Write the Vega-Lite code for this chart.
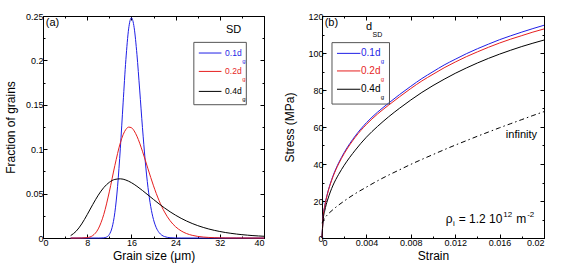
{
"$schema": "https://vega.github.io/schema/vega-lite/v6.json",
"padding": {"left": 4, "top": 11, "right": 4, "bottom": 4},
"spacing": 16,
"config": {
  "font": "Liberation Sans",
  "view": {"stroke": "black", "strokeWidth": 1},
  "axis": {"domainColor": "black", "tickColor": "black", "labelColor": "black", "titleColor": "black", "labelFontSize": 9, "titleFontSize": 12, "titleFontWeight": "normal", "grid": false, "labelPadding": 4, "titlePadding": 3.5, "labelFont": "Liberation Sans", "titleFont": "Liberation Sans"}
},
"datasets": {
  "dist": [
    {"sd":"0.1","size":5,"fraction":0},{"sd":"0.1","size":10,"fraction":0},{"sd":"0.1","size":10.5,"fraction":0.00002},{"sd":"0.1","size":11,"fraction":0.00022},{"sd":"0.1","size":11.5,"fraction":0.00105},{"sd":"0.1","size":12,"fraction":0.00391},{"sd":"0.1","size":12.5,"fraction":0.01167},{"sd":"0.1","size":13,"fraction":0.02849},{"sd":"0.1","size":13.5,"fraction":0.05815},{"sd":"0.1","size":14,"fraction":0.10113},{"sd":"0.1","size":14.5,"fraction":0.15215},{"sd":"0.1","size":15,"fraction":0.20084},{"sd":"0.1","size":15.5,"fraction":0.2355},{"sd":"0.1","size":16,"fraction":0.248},{"sd":"0.1","size":16.5,"fraction":0.23683},{"sd":"0.1","size":17,"fraction":0.20689},{"sd":"0.1","size":17.5,"fraction":0.1666},{"sd":"0.1","size":18,"fraction":0.12454},{"sd":"0.1","size":18.5,"fraction":0.08696},{"sd":"0.1","size":19,"fraction":0.05705},{"sd":"0.1","size":19.5,"fraction":0.03533},{"sd":"0.1","size":20,"fraction":0.02076},{"sd":"0.1","size":20.5,"fraction":0.01162},{"sd":"0.1","size":21,"fraction":0.00622},{"sd":"0.1","size":21.5,"fraction":0.00319},{"sd":"0.1","size":22,"fraction":0.00158},{"sd":"0.1","size":22.5,"fraction":0.00075},{"sd":"0.1","size":23,"fraction":0.00035},{"sd":"0.1","size":24,"fraction":0.00007},{"sd":"0.1","size":25,"fraction":0},{"sd":"0.1","size":40,"fraction":0},
    {"sd":"0.2","size":5,"fraction":0},{"sd":"0.2","size":6,"fraction":0},{"sd":"0.2","size":7,"fraction":0.00004},{"sd":"0.2","size":8,"fraction":0.00045},{"sd":"0.2","size":9,"fraction":0.00274},{"sd":"0.2","size":10,"fraction":0.01024},{"sd":"0.2","size":11,"fraction":0.02654},{"sd":"0.2","size":12,"fraction":0.05193},{"sd":"0.2","size":13,"fraction":0.08147},{"sd":"0.2","size":14,"fraction":0.10717},{"sd":"0.2","size":14.5,"fraction":0.11632},{"sd":"0.2","size":15,"fraction":0.12227},{"sd":"0.2","size":15.5,"fraction":0.12486},{"sd":"0.2","size":16,"fraction":0.1242},{"sd":"0.2","size":16.5,"fraction":0.12062},{"sd":"0.2","size":17,"fraction":0.11463},{"sd":"0.2","size":18,"fraction":0.09771},{"sd":"0.2","size":19,"fraction":0.07792},{"sd":"0.2","size":20,"fraction":0.05876},{"sd":"0.2","size":21,"fraction":0.04227},{"sd":"0.2","size":22,"fraction":0.02921},{"sd":"0.2","size":23,"fraction":0.0195},{"sd":"0.2","size":24,"fraction":0.01266},{"sd":"0.2","size":25,"fraction":0.00801},{"sd":"0.2","size":26,"fraction":0.00496},{"sd":"0.2","size":27,"fraction":0.00302},{"sd":"0.2","size":28,"fraction":0.00181},{"sd":"0.2","size":29,"fraction":0.00107},{"sd":"0.2","size":30,"fraction":0.00062},{"sd":"0.2","size":31,"fraction":0.00036},{"sd":"0.2","size":32,"fraction":0.00021},{"sd":"0.2","size":33,"fraction":0.00012},{"sd":"0.2","size":34,"fraction":0.00007},{"sd":"0.2","size":35,"fraction":0.00004},{"sd":"0.2","size":36,"fraction":0.00002},{"sd":"0.2","size":38,"fraction":0},{"sd":"0.2","size":40,"fraction":0},
    {"sd":"0.4","size":5,"fraction":0.00266},{"sd":"0.4","size":6,"fraction":0.00762},{"sd":"0.4","size":7,"fraction":0.01579},{"sd":"0.4","size":8,"fraction":0.02632},{"sd":"0.4","size":9,"fraction":0.03764},{"sd":"0.4","size":10,"fraction":0.0482},{"sd":"0.4","size":11,"fraction":0.05677},{"sd":"0.4","size":12,"fraction":0.06273},{"sd":"0.4","size":13,"fraction":0.06595},{"sd":"0.4","size":14,"fraction":0.06665},{"sd":"0.4","size":15,"fraction":0.06527},{"sd":"0.4","size":16,"fraction":0.06231},{"sd":"0.4","size":17,"fraction":0.05824},{"sd":"0.4","size":18,"fraction":0.05352},{"sd":"0.4","size":19,"fraction":0.04848},{"sd":"0.4","size":20,"fraction":0.04341},{"sd":"0.4","size":21,"fraction":0.03848},{"sd":"0.4","size":22,"fraction":0.03383},{"sd":"0.4","size":23,"fraction":0.02954},{"sd":"0.4","size":24,"fraction":0.02564},{"sd":"0.4","size":25,"fraction":0.02215},{"sd":"0.4","size":26,"fraction":0.01906},{"sd":"0.4","size":27,"fraction":0.01634},{"sd":"0.4","size":28,"fraction":0.01397},{"sd":"0.4","size":29,"fraction":0.01192},{"sd":"0.4","size":30,"fraction":0.01015},{"sd":"0.4","size":31,"fraction":0.00863},{"sd":"0.4","size":32,"fraction":0.00733},{"sd":"0.4","size":33,"fraction":0.00621},{"sd":"0.4","size":34,"fraction":0.00527},{"sd":"0.4","size":35,"fraction":0.00446},{"sd":"0.4","size":36,"fraction":0.00378},{"sd":"0.4","size":37,"fraction":0.0032},{"sd":"0.4","size":38,"fraction":0.00271},{"sd":"0.4","size":39,"fraction":0.00229},{"sd":"0.4","size":40,"fraction":0.00194}
  ],
  "stress": [
    {"sd":"0.1","strain":0,"stress":0},{"sd":"0.1","strain":0.0001,"stress":11.2},{"sd":"0.1","strain":0.00025,"stress":17.4},{"sd":"0.1","strain":0.0005,"stress":24.3},{"sd":"0.1","strain":0.00075,"stress":29.4},{"sd":"0.1","strain":0.001,"stress":33.7},{"sd":"0.1","strain":0.0015,"stress":40.6},{"sd":"0.1","strain":0.002,"stress":46.2},{"sd":"0.1","strain":0.003,"stress":55.2},{"sd":"0.1","strain":0.004,"stress":62.3},{"sd":"0.1","strain":0.005,"stress":68.0},{"sd":"0.1","strain":0.006,"stress":72.9},{"sd":"0.1","strain":0.007,"stress":77.6},{"sd":"0.1","strain":0.008,"stress":82.0},{"sd":"0.1","strain":0.009,"stress":86.2},{"sd":"0.1","strain":0.01,"stress":89.9},{"sd":"0.1","strain":0.011,"stress":93.5},{"sd":"0.1","strain":0.012,"stress":96.6},{"sd":"0.1","strain":0.013,"stress":99.6},{"sd":"0.1","strain":0.014,"stress":102.3},{"sd":"0.1","strain":0.015,"stress":104.8},{"sd":"0.1","strain":0.016,"stress":107.2},{"sd":"0.1","strain":0.017,"stress":109.3},{"sd":"0.1","strain":0.018,"stress":111.3},{"sd":"0.1","strain":0.019,"stress":113.2},{"sd":"0.1","strain":0.02,"stress":115.0},
    {"sd":"0.2","strain":0,"stress":0},{"sd":"0.2","strain":0.0001,"stress":11.0},{"sd":"0.2","strain":0.00025,"stress":17.2},{"sd":"0.2","strain":0.0005,"stress":24.0},{"sd":"0.2","strain":0.00075,"stress":29.1},{"sd":"0.2","strain":0.001,"stress":33.3},{"sd":"0.2","strain":0.0015,"stress":40.1},{"sd":"0.2","strain":0.002,"stress":45.6},{"sd":"0.2","strain":0.003,"stress":54.5},{"sd":"0.2","strain":0.004,"stress":61.4},{"sd":"0.2","strain":0.005,"stress":67.0},{"sd":"0.2","strain":0.006,"stress":71.8},{"sd":"0.2","strain":0.007,"stress":76.4},{"sd":"0.2","strain":0.008,"stress":80.8},{"sd":"0.2","strain":0.009,"stress":84.9},{"sd":"0.2","strain":0.01,"stress":88.5},{"sd":"0.2","strain":0.011,"stress":92.0},{"sd":"0.2","strain":0.012,"stress":95.1},{"sd":"0.2","strain":0.013,"stress":98.0},{"sd":"0.2","strain":0.014,"stress":100.6},{"sd":"0.2","strain":0.015,"stress":103.1},{"sd":"0.2","strain":0.016,"stress":105.4},{"sd":"0.2","strain":0.017,"stress":107.5},{"sd":"0.2","strain":0.018,"stress":109.4},{"sd":"0.2","strain":0.019,"stress":111.3},{"sd":"0.2","strain":0.02,"stress":113.0},
    {"sd":"0.4","strain":0,"stress":0},{"sd":"0.4","strain":0.0001,"stress":9.5},{"sd":"0.4","strain":0.00025,"stress":14.8},{"sd":"0.4","strain":0.0005,"stress":20.5},{"sd":"0.4","strain":0.00075,"stress":24.9},{"sd":"0.4","strain":0.001,"stress":28.6},{"sd":"0.4","strain":0.0015,"stress":34.4},{"sd":"0.4","strain":0.002,"stress":39.3},{"sd":"0.4","strain":0.003,"stress":47.5},{"sd":"0.4","strain":0.004,"stress":54.5},{"sd":"0.4","strain":0.005,"stress":60.3},{"sd":"0.4","strain":0.006,"stress":65.5},{"sd":"0.4","strain":0.007,"stress":70.2},{"sd":"0.4","strain":0.008,"stress":74.6},{"sd":"0.4","strain":0.009,"stress":78.7},{"sd":"0.4","strain":0.01,"stress":82.4},{"sd":"0.4","strain":0.011,"stress":85.8},{"sd":"0.4","strain":0.012,"stress":89.0},{"sd":"0.4","strain":0.013,"stress":91.9},{"sd":"0.4","strain":0.014,"stress":94.6},{"sd":"0.4","strain":0.015,"stress":97.1},{"sd":"0.4","strain":0.016,"stress":99.4},{"sd":"0.4","strain":0.017,"stress":101.5},{"sd":"0.4","strain":0.018,"stress":103.5},{"sd":"0.4","strain":0.019,"stress":105.3},{"sd":"0.4","strain":0.02,"stress":107.0}
  ],
  "inf": [
    {"strain":0,"stress":8},{"strain":0.00025,"stress":10.8},{"strain":0.0005,"stress":12.6},{"strain":0.001,"stress":15.4},{"strain":0.002,"stress":20.0},{"strain":0.003,"stress":24.0},{"strain":0.004,"stress":27.5},{"strain":0.005,"stress":30.9},{"strain":0.006,"stress":34.0},{"strain":0.007,"stress":36.9},{"strain":0.008,"stress":39.8},{"strain":0.009,"stress":42.5},{"strain":0.01,"stress":45.1},{"strain":0.011,"stress":47.7},{"strain":0.012,"stress":50.2},{"strain":0.013,"stress":52.6},{"strain":0.014,"stress":55.0},{"strain":0.015,"stress":57.3},{"strain":0.016,"stress":59.6},{"strain":0.017,"stress":61.8},{"strain":0.018,"stress":64.0},{"strain":0.019,"stress":66.2},{"strain":0.02,"stress":68.3}
  ],
  "boxA": [{"x1":27.3,"x2":36.8,"y1":0.1501,"y2":0.2203}],
  "legA": [
    {"sd":"0.1","x1":28.2,"x2":32.3,"y":0.2083,"label":"0.1d","lx":35.95,"sx":36.05,"sy":0.1996},
    {"sd":"0.2","x1":28.2,"x2":32.3,"y":0.1876,"label":"0.2d","lx":35.95,"sx":36.05,"sy":0.1789},
    {"sd":"0.4","x1":28.2,"x2":32.3,"y":0.1651,"label":"0.4d","lx":35.95,"sx":36.05,"sy":0.1564}
  ],
  "annA": [{"x":0.5,"y":0.242,"t":"(a)"},{"x":33.1,"y":0.2346,"t":"SD"}],
  "boxB": [{"x1":0.0009,"x2":0.00608,"y1":72.4,"y2":105.6}],
  "legB": [
    {"sd":"0.1","x1":0.00135,"x2":0.00346,"y":99.8,"label":"0.1d","lx":0.00527,"sx":0.0053,"sy":95.6},
    {"sd":"0.2","x1":0.00135,"x2":0.00346,"y":90.3,"label":"0.2d","lx":0.00527,"sx":0.0053,"sy":86.1},
    {"sd":"0.4","x1":0.00135,"x2":0.00346,"y":80.4,"label":"0.4d","lx":0.00527,"sx":0.0053,"sy":76.2}
  ],
  "annBl": [{"x":0.00024,"y":116,"t":"(b)"}],
  "annBr": [{"x":0.01937,"y":55.7,"t":"infinity"},{"x":0.00451,"y":114.2,"t":"d"}],
  "annBs": [{"x":0.00455,"y":109.7,"t":"SD"}],
  "rhoMain": [{"x":0.011144,"y":10.1,"t":"ρ"},{"x":0.012315,"y":10.1,"t":"= 1.2 10"},{"x":0.017495,"y":10.1,"t":"m"}],
  "rhoSmall": [{"x":0.011793,"y":7.6,"t":"i"},{"x":0.016324,"y":12.5,"t":"12"},{"x":0.018486,"y":12.5,"t":"-2"}]
},
"hconcat": [
  {
    "width": 221, "height": 222,
    "resolve": {"axis": {"x": "independent", "y": "independent"}},
    "layer": [
      {
        "data": {"name": "dist"},
        "mark": {"type": "line", "strokeWidth": 1, "interpolate": "monotone"},
        "encoding": {
          "x": {"field": "size", "type": "quantitative", "scale": {"domain": [0, 40], "nice": false},
                "axis": {"orient": "bottom", "title": "Grain size (μm)", "values": [0,4,8,12,16,20,24,28,32,36,40],
                         "labelExpr": "datum.value % 8 === 0 ? datum.label : ''",
                         "tickSize": {"condition": {"test": "datum.value % 8 === 0", "value": -4}, "value": -2}}},
          "y": {"field": "fraction", "type": "quantitative", "scale": {"domain": [0, 0.25], "nice": false},
                "axis": {"orient": "left", "title": "Fraction of grains", "titlePadding": 7.5, "values": [0,0.025,0.05,0.075,0.1,0.125,0.15,0.175,0.2,0.225,0.25],
                         "labelExpr": "abs(datum.value*20 - round(datum.value*20)) < 1e-6 ? format(datum.value, '~g') : ''",
                         "tickSize": {"condition": {"test": "abs(datum.value*20 - round(datum.value*20)) < 1e-6", "value": -4}, "value": -2}}},
          "color": {"field": "sd", "type": "nominal", "scale": {"domain": ["0.1","0.2","0.4"], "range": ["#1f1fe6","#e61f1f","#000000"]}, "legend": null}
        }
      },
      {
        "data": {"name": "boxA"},
        "mark": {"type": "rect", "filled": false, "stroke": "#555555", "strokeWidth": 1},
        "encoding": {
          "x": {"field": "x1", "type": "quantitative",
                "axis": {"orient": "top", "title": null, "labels": false, "values": [0,4,8,12,16,20,24,28,32,36,40],
                         "tickSize": {"condition": {"test": "datum.value % 8 === 0", "value": -4}, "value": -2}}},
          "x2": {"field": "x2"},
          "y": {"field": "y1", "type": "quantitative",
                "axis": {"orient": "right", "title": null, "labels": false, "values": [0,0.025,0.05,0.075,0.1,0.125,0.15,0.175,0.2,0.225,0.25],
                         "tickSize": {"condition": {"test": "abs(datum.value*20 - round(datum.value*20)) < 1e-6", "value": -4}, "value": -2}}},
          "y2": {"field": "y2"}
        }
      },
      {
        "data": {"name": "legA"},
        "mark": {"type": "rule", "strokeWidth": 1},
        "encoding": {
          "x": {"field": "x1", "type": "quantitative", "axis": null},
          "x2": {"field": "x2"},
          "y": {"field": "y", "type": "quantitative", "axis": null},
          "color": {"field": "sd", "type": "nominal", "legend": null}
        }
      },
      {
        "data": {"name": "legA"},
        "mark": {"type": "text", "align": "right", "baseline": "middle", "fontSize": 8.5},
        "encoding": {
          "x": {"field": "lx", "type": "quantitative", "axis": null},
          "y": {"field": "y", "type": "quantitative", "axis": null},
          "text": {"field": "label"},
          "color": {"field": "sd", "type": "nominal", "legend": null}
        }
      },
      {
        "data": {"name": "legA"},
        "mark": {"type": "text", "align": "left", "baseline": "middle", "fontSize": 6, "text": "g"},
        "encoding": {
          "x": {"field": "sx", "type": "quantitative", "axis": null},
          "y": {"field": "sy", "type": "quantitative", "axis": null},
          "color": {"field": "sd", "type": "nominal", "legend": null}
        }
      },
      {
        "data": {"name": "annA"},
        "mark": {"type": "text", "align": "left", "baseline": "middle", "fontSize": 11, "color": "black"},
        "encoding": {
          "x": {"field": "x", "type": "quantitative", "axis": null},
          "y": {"field": "y", "type": "quantitative", "axis": null},
          "text": {"field": "t"}
        }
      }
    ]
  },
  {
    "width": 222, "height": 222,
    "resolve": {"axis": {"x": "independent", "y": "independent"}},
    "layer": [
      {
        "data": {"name": "stress"},
        "mark": {"type": "line", "strokeWidth": 1, "interpolate": "monotone"},
        "encoding": {
          "x": {"field": "strain", "type": "quantitative", "scale": {"domain": [0, 0.02], "nice": false},
                "axis": {"orient": "bottom", "title": "Strain", "values": [0,0.002,0.004,0.006,0.008,0.01,0.012,0.014,0.016,0.018,0.02],
                         "labelExpr": "abs(datum.value*250 - round(datum.value*250)) < 1e-6 ? format(datum.value, '~g') : ''",
                         "tickSize": {"condition": {"test": "abs(datum.value*250 - round(datum.value*250)) < 1e-6", "value": -4}, "value": -2}}},
          "y": {"field": "stress", "type": "quantitative", "scale": {"domain": [0, 120], "nice": false},
                "axis": {"orient": "left", "title": "Stress (MPa)", "titlePadding": 11, "labelPadding": 3, "values": [0,10,20,30,40,50,60,70,80,90,100,110,120],
                         "labelExpr": "datum.value % 20 === 0 ? datum.label : ''",
                         "tickSize": {"condition": {"test": "datum.value % 20 === 0", "value": -4}, "value": -2}}},
          "color": {"field": "sd", "type": "nominal", "scale": {"domain": ["0.1","0.2","0.4"], "range": ["#1f1fe6","#e61f1f","#000000"]}, "legend": null}
        }
      },
      {
        "data": {"name": "inf"},
        "mark": {"type": "line", "strokeWidth": 1, "color": "black", "strokeDash": [5, 3, 1.5, 3], "interpolate": "monotone"},
        "encoding": {
          "x": {"field": "strain", "type": "quantitative",
                "axis": {"orient": "top", "title": null, "labels": false, "values": [0,0.002,0.004,0.006,0.008,0.01,0.012,0.014,0.016,0.018,0.02],
                         "tickSize": {"condition": {"test": "abs(datum.value*250 - round(datum.value*250)) < 1e-6", "value": -4}, "value": -2}}},
          "y": {"field": "stress", "type": "quantitative",
                "axis": {"orient": "right", "title": null, "labels": false, "values": [0,10,20,30,40,50,60,70,80,90,100,110,120],
                         "tickSize": {"condition": {"test": "datum.value % 20 === 0", "value": -4}, "value": -2}}}
        }
      },
      {
        "data": {"name": "boxB"},
        "mark": {"type": "rect", "filled": false, "stroke": "#555555", "strokeWidth": 1},
        "encoding": {
          "x": {"field": "x1", "type": "quantitative", "axis": null},
          "x2": {"field": "x2"},
          "y": {"field": "y1", "type": "quantitative", "axis": null},
          "y2": {"field": "y2"}
        }
      },
      {
        "data": {"name": "legB"},
        "mark": {"type": "rule", "strokeWidth": 1},
        "encoding": {
          "x": {"field": "x1", "type": "quantitative", "axis": null},
          "x2": {"field": "x2"},
          "y": {"field": "y", "type": "quantitative", "axis": null},
          "color": {"field": "sd", "type": "nominal", "legend": null}
        }
      },
      {
        "data": {"name": "legB"},
        "mark": {"type": "text", "align": "right", "baseline": "middle", "fontSize": 10},
        "encoding": {
          "x": {"field": "lx", "type": "quantitative", "axis": null},
          "y": {"field": "y", "type": "quantitative", "axis": null},
          "text": {"field": "label"},
          "color": {"field": "sd", "type": "nominal", "legend": null}
        }
      },
      {
        "data": {"name": "legB"},
        "mark": {"type": "text", "align": "left", "baseline": "middle", "fontSize": 6, "text": "g"},
        "encoding": {
          "x": {"field": "sx", "type": "quantitative", "axis": null},
          "y": {"field": "sy", "type": "quantitative", "axis": null},
          "color": {"field": "sd", "type": "nominal", "legend": null}
        }
      },
      {
        "data": {"name": "annBl"},
        "mark": {"type": "text", "align": "left", "baseline": "middle", "fontSize": 11, "color": "black"},
        "encoding": {
          "x": {"field": "x", "type": "quantitative", "axis": null},
          "y": {"field": "y", "type": "quantitative", "axis": null},
          "text": {"field": "t"}
        }
      },
      {
        "data": {"name": "annBr"},
        "mark": {"type": "text", "align": "right", "baseline": "middle", "fontSize": 11, "color": "black"},
        "encoding": {
          "x": {"field": "x", "type": "quantitative", "axis": null},
          "y": {"field": "y", "type": "quantitative", "axis": null},
          "text": {"field": "t"}
        }
      },
      {
        "data": {"name": "annBs"},
        "mark": {"type": "text", "align": "left", "baseline": "middle", "fontSize": 7, "color": "black"},
        "encoding": {
          "x": {"field": "x", "type": "quantitative", "axis": null},
          "y": {"field": "y", "type": "quantitative", "axis": null},
          "text": {"field": "t"}
        }
      },
      {
        "data": {"name": "rhoMain"},
        "mark": {"type": "text", "align": "left", "baseline": "middle", "fontSize": 12, "color": "black"},
        "encoding": {
          "x": {"field": "x", "type": "quantitative", "axis": null},
          "y": {"field": "y", "type": "quantitative", "axis": null},
          "text": {"field": "t"}
        }
      },
      {
        "data": {"name": "rhoSmall"},
        "mark": {"type": "text", "align": "left", "baseline": "middle", "fontSize": 8, "color": "black"},
        "encoding": {
          "x": {"field": "x", "type": "quantitative", "axis": null},
          "y": {"field": "y", "type": "quantitative", "axis": null},
          "text": {"field": "t"}
        }
      }
    ]
  }
]
}
